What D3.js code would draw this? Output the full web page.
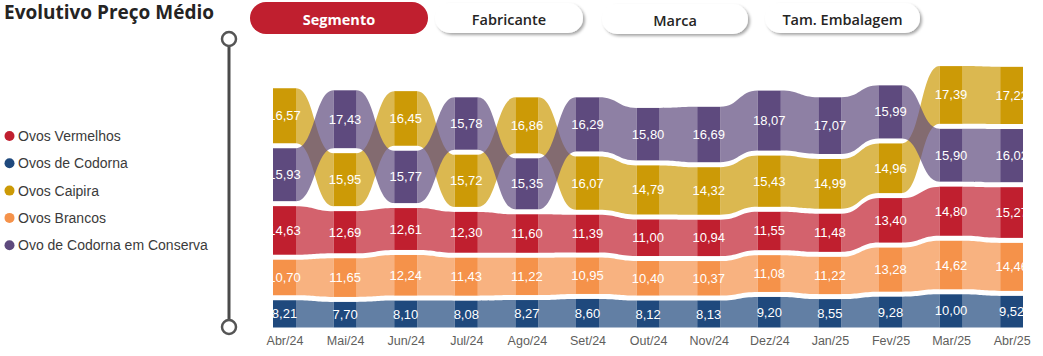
<!DOCTYPE html>
<html><head><meta charset="utf-8">
<script src="https://cdn.jsdelivr.net/npm/d3@7"></script>
<style>body{margin:0;background:#fff;} svg{display:block}</style>
</head><body>
<svg id="c" width="1043" height="356"></svg>
<script>
const months = ["Abr/24","Mai/24","Jun/24","Jul/24","Ago/24","Set/24","Out/24","Nov/24","Dez/24","Jan/25","Fev/25","Mar/25","Abr/25"];
const seriesNames = ["Ovos Vermelhos","Ovos de Codorna","Ovos Caipira","Ovos Brancos","Ovo de Codorna em Conserva"];
const ovosVermelhos = [14.63,12.69,12.61,12.30,11.60,11.39,11.00,10.94,11.55,11.48,13.40,14.80,15.27];
const ovosCodorna   = [8.21,7.70,8.10,8.08,8.27,8.60,8.12,8.13,9.20,8.55,9.28,10.00,9.52];
const ovosCaipira   = [16.57,15.95,16.45,15.72,16.86,16.07,14.79,14.32,15.43,14.99,14.96,17.39,17.22];
const ovosBrancos   = [10.70,11.65,12.24,11.43,11.22,10.95,10.40,10.37,11.08,11.22,13.28,14.62,14.46];
const ovoConserva   = [15.93,17.43,15.77,15.78,15.35,16.29,15.80,16.69,18.07,17.07,15.99,15.90,16.02];
const seriesColors = ["#C01F2F","#1F497D","#CC9A06","#F5924A","#5E4A7E"];
const buttonLabels = ["Segmento","Fabricante","Marca","Tam. Embalagem"];

const values = [ovosVermelhos, ovosCodorna, ovosCaipira, ovosBrancos, ovoConserva];
const svg = d3.select("#c");
const fmt = v => v.toFixed(2).replace(".", ",");

// Title
svg.append("text").attr("x",4).attr("y",12).attr("dominant-baseline","central")
  .style("font-family","'Open Sans', sans-serif").style("font-weight","700").style("font-size","19px")
  .attr("fill","#252423").text("Evolutivo Preço Médio");

// Buttons
const defs = svg.append("defs");
const f = defs.append("filter").attr("id","sh").attr("x","-10%").attr("y","-30%").attr("width","125%").attr("height","180%");
f.append("feDropShadow").attr("dx",2).attr("dy",2).attr("stdDeviation",1.5).attr("flood-color","#000").attr("flood-opacity",0.35);
const btns = [[250,428,2,34],[435,583,3,33],[602,748,4,34],[765,920,3,33]];
btns.forEach((b,i)=>{
  const g = svg.append("g");
  g.append("rect").attr("x",b[0]).attr("y",b[2]).attr("width",b[1]-b[0]).attr("height",b[3]-b[2])
    .attr("rx",(b[3]-b[2])/2).attr("fill", i===0 ? "#C01F2F" : "#fff").attr("filter", i===0 ? null : "url(#sh)");
  g.append("text").attr("x",(b[0]+b[1])/2).attr("y",(b[2]+b[3])/2+1.5).attr("text-anchor","middle").attr("dominant-baseline","central")
    .style("font-family","'Open Sans', sans-serif").style("font-weight", i===0?"700":"600").style("font-size","14.5px")
    .attr("fill", i===0 ? "#fff" : "#252423").text(buttonLabels[i]);
});

// Legend
seriesNames.forEach((n,i)=>{
  const yy = 136 + i*27.3;
  svg.append("circle").attr("cx",9.5).attr("cy",yy).attr("r",5).attr("fill",seriesColors[i]);
  svg.append("text").attr("x",18).attr("y",yy).attr("dominant-baseline","central")
    .style("font-family","'Liberation Sans', Arial, sans-serif").style("font-size","14px").attr("fill","#3b3b3b").text(n);
});

// Vertical decoration
svg.append("line").attr("x1",229).attr("x2",229).attr("y1",46).attr("y2",320).attr("stroke","#4a4a4a").attr("stroke-width",3);
[39,327].forEach(cy=>svg.append("circle").attr("cx",229).attr("cy",cy).attr("r",7).attr("fill","#fff").attr("stroke","#555").attr("stroke-width",2.5));

// Scales
const x = d3.scalePoint().domain(months).range([284.5, 1011.7]);
const y = d3.scaleLinear().domain([0, 80]).range([327.5, 327.5 - 80*3.32]);
const gap = 5, cw = 23;

// Stack with gaps, sorted by value (largest on top)
const seg = values.map(()=>[]);
months.forEach((m,mi)=>{
  const order = d3.range(values.length).sort((a,b)=>values[a][mi]-values[b][mi]);
  let cum = 0;
  order.forEach((s,r)=>{
    const v = values[s][mi];
    seg[s][mi] = {bottom: y(cum) - r*gap, top: y(cum+v) - r*gap};
    cum += v;
  });
});

defs.append("clipPath").attr("id","clip").append("rect").attr("x",273).attr("y",0).attr("width",750).attr("height",335);
const plot = svg.append("g").attr("clip-path","url(#clip)");

// Ribbons
values.forEach((vals,s)=>{
  for (let mi=0; mi<months.length-1; mi++){
    const xa = x(months[mi]) + cw/2, xb = x(months[mi+1]) - cw/2, xm = (xa+xb)/2;
    const a = seg[s][mi], b = seg[s][mi+1];
    const p = d3.path();
    p.moveTo(xa,a.top);
    p.bezierCurveTo(xm,a.top,xm,b.top,xb,b.top);
    p.lineTo(xb,b.bottom);
    p.bezierCurveTo(xm,b.bottom,xm,a.bottom,xa,a.bottom);
    p.closePath();
    plot.append("path").attr("d",p.toString()).attr("fill",seriesColors[s]).attr("fill-opacity",0.7);
  }
});

// Columns
values.forEach((vals,s)=>{
  plot.selectAll(null).data(months).enter().append("rect")
    .attr("x",m=>x(m)-cw/2).attr("width",cw)
    .attr("y",(m,i)=>seg[s][i].top).attr("height",(m,i)=>seg[s][i].bottom-seg[s][i].top)
    .attr("fill",seriesColors[s]);
});
// Labels
values.forEach((vals,s)=>{
  plot.selectAll(null).data(months).enter().append("text")
    .attr("x",m=>x(m)).attr("y",(m,i)=>(seg[s][i].top+seg[s][i].bottom)/2)
    .attr("text-anchor","middle").attr("dominant-baseline","central")
    .style("font-family","'Liberation Sans', Arial, sans-serif").style("font-size","13px")
    .attr("fill","#fff").text((m,i)=>fmt(vals[i]));
});

// X axis
const ax = svg.append("g").attr("transform","translate(0,333)")
  .call(d3.axisBottom(x).tickSize(0).tickPadding(3));
ax.select(".domain").remove();
ax.selectAll("text").style("font-family","'Liberation Sans', Arial, sans-serif").style("font-size","12.5px").attr("fill","#605E5C");
</script>
</body></html>
